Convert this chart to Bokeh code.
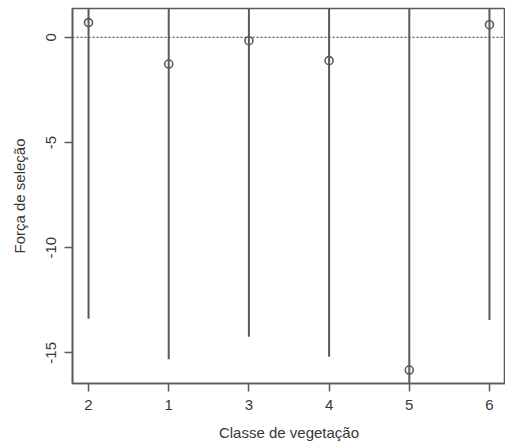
from bokeh.plotting import figure
from bokeh.models import FixedTicker, Range1d, Span, ColumnDataSource
from bokeh.embed import file_html
from bokeh.resources import INLINE

# Data
categories = ["2", "1", "3", "4", "5", "6"]
estimate = [0.70, -1.27, -0.16, -1.11, -15.82, 0.60]
lower = [-13.38, -15.31, -14.24, -15.19, -30.0, -13.44]
upper = [14.78, 12.77, 13.92, 12.97, 14.0, 14.64]
y_ticks = [-15, -10, -5, 0]

xpos = list(range(1, len(categories) + 1))
src = ColumnDataSource(dict(x=xpos, est=estimate, lo=lower, hi=upper))

FONT = "Liberation Sans"
GRAY = "#5a5a5a"
TXT = "#383838"

p = figure(width=505, height=444, output_backend="svg", toolbar_location=None,
           x_range=Range1d(0.8, 6.2), y_range=Range1d(-16.46, 1.37),
           min_border_left=72, min_border_right=0, min_border_top=8,
           min_border_bottom=61)
p.background_fill_color = "white"
p.border_fill_color = "white"
p.outline_line_color = GRAY
p.outline_line_width = 1.6
p.xgrid.visible = False
p.ygrid.visible = False

p.segment(x0="x", y0="lo", x1="x", y1="hi", source=src, line_color=GRAY, line_width=2)
p.scatter(x="x", y="est", source=src, size=8, marker="circle",
          fill_color="white", fill_alpha=0.0, line_color=GRAY, line_width=1.6)

p.add_layout(Span(location=0, dimension="width", line_color=GRAY,
                  line_dash="2 2", line_width=1.2))

xa = p.xaxis[0]
xa.ticker = FixedTicker(ticks=xpos)
xa.major_label_overrides = {i: c for i, c in zip(xpos, categories)}
xa.axis_label = "Classe de vegetação"
ya = p.yaxis[0]
ya.ticker = FixedTicker(ticks=y_ticks)
ya.major_label_overrides = {t: str(t) for t in y_ticks}
ya.axis_label = "Força de seleção"
ya.major_label_orientation = "vertical"

for ax in (xa, ya):
    ax.axis_line_color = GRAY
    ax.axis_line_width = 1.6
    ax.major_tick_line_color = GRAY
    ax.major_tick_line_width = 1.5
    ax.major_tick_out = 8
    ax.major_tick_in = 0
    ax.minor_tick_line_color = None
    ax.major_label_text_font = FONT
    ax.major_label_text_font_size = "15px"
    ax.major_label_text_color = TXT
    ax.axis_label_text_font = FONT
    ax.axis_label_text_font_size = "15px"
    ax.axis_label_text_font_style = "normal"
    ax.axis_label_text_color = TXT

xa.major_label_standoff = 8
xa.axis_label_standoff = 11
ya.major_label_standoff = 8
ya.axis_label_standoff = 16

open("out.html", "w").write(file_html(p, INLINE))
